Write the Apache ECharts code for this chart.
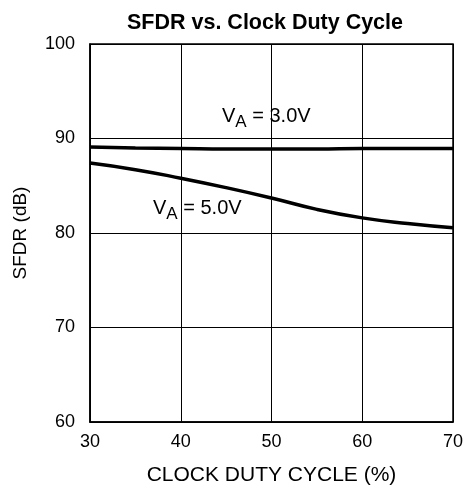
<!DOCTYPE html>
<html>
<head>
<meta charset="utf-8">
<script src="https://cdn.jsdelivr.net/npm/echarts@6/dist/echarts.min.js"></script>
<style>
html,body{margin:0;padding:0;background:#fff;}
#chart{width:466px;height:487px;}
</style>
</head>
<body>
<div id="chart"></div>
<script>
// duty cycle (%) and SFDR (dB)
var duty = [30, 35, 40, 45, 50, 55, 60, 65, 70];
var sfdr3v = [89.1, 89.0, 88.95, 88.9, 88.9, 88.9, 88.95, 88.95, 88.95];
var sfdr5v = [87.4, 86.7, 85.8, 84.8, 83.7, 82.5, 81.6, 81.0, 80.55];

function pairs(xs, ys){
	var out = [];
	for (var i = 0; i < xs.length; i++) out.push([xs[i], ys[i]]);
	return out;
}

var font = 'Liberation Sans, Arial, sans-serif';
var richLbl = {
	v: {fontFamily: font, fontSize: 20, fill: '#000'},
	s: {fontFamily: font, fontSize: 17, fill: '#000', verticalAlign: 'bottom', padding: [12, 0, 0, 0]}
};
var chart = echarts.init(document.getElementById('chart'));
var option = {
	animation: false,
	title: {
		text: 'SFDR vs. Clock Duty Cycle',
		left: 260, top: 7, textAlign: 'center',
		textStyle: {fontFamily: font, fontSize: 21.5, fontWeight: 'bold', color: '#000'}
	},
	grid: {left: 90, right: 13, top: 44, bottom: 65, containLabel: false, outerBoundsMode: 'none'},
	xAxis: {
		type: 'value', min: 30, max: 70, interval: 10,
		name: 'CLOCK DUTY CYCLE (%)', nameLocation: 'middle', nameGap: 43,
		nameTextStyle: {fontFamily: font, fontSize: 21, color: '#000'},
		axisLine: {lineStyle: {color: '#000', width: 1.5}},
		axisTick: {show: false},
		axisLabel: {fontFamily: font, fontSize: 18, color: '#000', margin: 11},
		splitLine: {lineStyle: {color: '#000', width: 1}}
	},
	yAxis: {
		type: 'value', min: 60, max: 100, interval: 10,
		name: 'SFDR (dB)', nameLocation: 'middle', nameGap: 60,
		nameTextStyle: {fontFamily: font, fontSize: 19, color: '#000'},
		axisLine: {show: true, lineStyle: {color: '#000', width: 1.5}},
		axisTick: {show: false},
		axisLabel: {fontFamily: font, fontSize: 18, color: '#000', margin: 15},
		splitLine: {lineStyle: {color: '#000', width: 1}}
	},
	graphic: [
		{type: 'rect', shape: {x: 90, y: 44, width: 363, height: 378}, style: {fill: 'none', stroke: '#000', lineWidth: 1.5}, z: 100},
		{type: 'text', left: 222, top: 106, style: {text: '{v|V}{s|A}{v| = 3.0V}', rich: richLbl}, z: 100},
		{type: 'text', left: 153, top: 198, style: {text: '{v|V}{s|A}{v| = 5.0V}', rich: richLbl}, z: 100}
	],
	series: [
		{name: 'VA = 3.0V', type: 'line', data: pairs(duty, sfdr3v), smooth: true, showSymbol: false,
			lineStyle: {color: '#000', width: 3.5}},
		{name: 'VA = 5.0V', type: 'line', data: pairs(duty, sfdr5v), smooth: true, showSymbol: false,
			lineStyle: {color: '#000', width: 3.5}}
	]
};
chart.setOption(option);
</script>
</body>
</html>
